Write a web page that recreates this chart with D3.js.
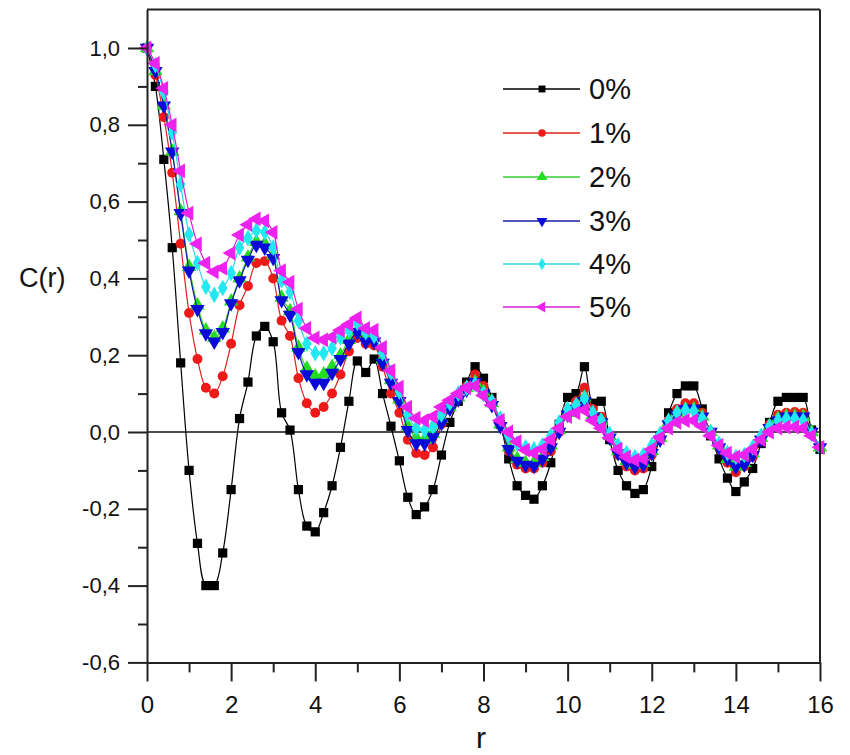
<!DOCTYPE html>
<html>
<head>
<meta charset="utf-8">
<script src="https://cdn.jsdelivr.net/npm/d3@7"></script>
<style>
  html, body { margin: 0; padding: 0; background: #fff; }
  svg { display: block; }
  text { font-family: "Liberation Sans", Arial, sans-serif; fill: #111; }
</style>
</head>
<body>
<svg id="chart" width="850" height="755"></svg>
<script>
// ---------------- DATA ----------------
const rValues = [
  0.0,0.2,0.4,0.6,0.8,1.0,1.2,1.4,1.6,1.8,
  2.0,2.2,2.4,2.6,2.8,3.0,3.2,3.4,3.6,3.8,
  4.0,4.2,4.4,4.6,4.8,5.0,5.2,5.4,5.6,5.8,
  6.0,6.2,6.4,6.6,6.8,7.0,7.2,7.4,7.6,7.8,
  8.0,8.2,8.4,8.6,8.8,9.0,9.2,9.4,9.6,9.8,
  10.0,10.2,10.4,10.6,10.8,11.0,11.2,11.4,11.6,11.8,
  12.0,12.2,12.4,12.6,12.8,13.0,13.2,13.4,13.6,13.8,
  14.0,14.2,14.4,14.6,14.8,15.0,15.2,15.4,15.6,15.8,
  16.0
];

const c0 = [
  1.00,0.90,0.71,0.48,0.18,-0.10,-0.29,-0.40,-0.40,-0.315,
  -0.15,0.035,0.13,0.25,0.275,0.235,0.05,0.005,-0.15,-0.245,
  -0.26,-0.21,-0.14,-0.04,0.08,0.185,0.155,0.19,0.10,0.015,
  -0.075,-0.17,-0.215,-0.195,-0.15,-0.06,0.025,0.08,0.13,0.17,
  0.14,0.09,0.02,-0.07,-0.14,-0.165,-0.175,-0.14,-0.08,0.02,
  0.09,0.10,0.17,0.075,0.08,-0.02,-0.10,-0.14,-0.16,-0.15,
  -0.09,-0.01,0.05,0.10,0.12,0.12,0.06,-0.01,-0.07,-0.12,
  -0.155,-0.13,-0.095,-0.03,0.025,0.08,0.09,0.09,0.09,0.005,
  -0.045
];
const c1 = [
  1.00,0.93,0.82,0.675,0.49,0.31,0.19,0.115,0.10,0.145,
  0.23,0.33,0.38,0.44,0.445,0.40,0.29,0.25,0.14,0.075,
  0.05,0.065,0.10,0.15,0.21,0.245,0.23,0.225,0.17,0.10,
  0.05,-0.02,-0.055,-0.06,-0.04,0.02,0.06,0.09,0.12,0.15,
  0.12,0.08,0.02,-0.05,-0.085,-0.095,-0.095,-0.08,-0.05,0.0,
  0.06,0.08,0.115,0.06,0.04,-0.01,-0.06,-0.09,-0.10,-0.095,
  -0.06,-0.02,0.03,0.06,0.075,0.075,0.05,0.0,-0.04,-0.08,
  -0.105,-0.09,-0.065,-0.02,0.02,0.045,0.05,0.052,0.05,0.0,
  -0.04
];
const c2 = [
  1.00,0.94,0.85,0.73,0.575,0.43,0.33,0.265,0.245,0.27,
  0.34,0.40,0.455,0.495,0.49,0.46,0.35,0.315,0.22,0.165,
  0.145,0.15,0.17,0.20,0.24,0.265,0.25,0.245,0.19,0.135,
  0.085,0.015,-0.015,-0.02,-0.005,0.035,0.065,0.09,0.115,0.13,
  0.105,0.075,0.02,-0.04,-0.07,-0.08,-0.08,-0.065,-0.035,0.005,
  0.05,0.065,0.09,0.045,0.03,-0.01,-0.05,-0.075,-0.085,-0.08,
  -0.05,-0.015,0.025,0.05,0.06,0.06,0.04,0.0,-0.035,-0.07,
  -0.09,-0.08,-0.055,-0.015,0.015,0.035,0.04,0.04,0.04,0.0,
  -0.04
];
const c3 = [
  1.00,0.94,0.85,0.73,0.57,0.42,0.32,0.257,0.235,0.26,
  0.335,0.395,0.448,0.487,0.48,0.453,0.343,0.305,0.208,0.15,
  0.128,0.128,0.154,0.19,0.23,0.26,0.235,0.235,0.18,0.128,
  0.08,0.005,-0.03,-0.03,-0.013,0.023,0.06,0.085,0.11,0.13,
  0.10,0.07,0.015,-0.045,-0.075,-0.086,-0.088,-0.07,-0.04,0.0,
  0.045,0.06,0.08,0.04,0.025,-0.015,-0.055,-0.08,-0.09,-0.085,
  -0.055,-0.02,0.02,0.045,0.06,0.06,0.04,0.0,-0.04,-0.07,
  -0.09,-0.085,-0.06,-0.02,0.01,0.03,0.04,0.04,0.04,0.0,
  -0.04
];
const c4 = [
  1.00,0.955,0.885,0.78,0.645,0.515,0.44,0.378,0.357,0.375,
  0.414,0.48,0.505,0.525,0.52,0.48,0.395,0.365,0.29,0.23,
  0.205,0.205,0.218,0.247,0.265,0.284,0.26,0.25,0.205,0.155,
  0.105,0.045,0.01,0.005,0.015,0.045,0.075,0.10,0.115,0.125,
  0.10,0.08,0.035,-0.01,-0.03,-0.04,-0.045,-0.035,-0.01,0.025,
  0.06,0.07,0.088,0.05,0.03,-0.005,-0.035,-0.055,-0.065,-0.06,
  -0.035,-0.005,0.03,0.05,0.057,0.055,0.035,0.0,-0.03,-0.055,
  -0.065,-0.06,-0.04,-0.01,0.015,0.03,0.035,0.035,0.03,-0.005,
  -0.04
];
const c5 = [
  1.00,0.96,0.895,0.80,0.68,0.57,0.49,0.44,0.417,0.427,
  0.466,0.513,0.54,0.555,0.55,0.52,0.42,0.39,0.32,0.27,
  0.245,0.24,0.247,0.265,0.28,0.297,0.27,0.265,0.22,0.16,
  0.117,0.065,0.036,0.03,0.04,0.065,0.083,0.10,0.115,0.12,
  0.095,0.07,0.03,0.0,-0.025,-0.047,-0.055,-0.045,-0.02,0.01,
  0.04,0.05,0.057,0.03,0.01,-0.015,-0.045,-0.065,-0.073,-0.07,
  -0.045,-0.015,0.01,0.025,0.03,0.03,0.015,-0.01,-0.035,-0.055,
  -0.065,-0.06,-0.045,-0.02,0.0,0.01,0.013,0.013,0.01,-0.01,
  -0.04
];

const seriesNames = ["0%","1%","2%","3%","4%","5%"];
const seriesValues = [c0,c1,c2,c3,c4,c5];

const xTickValues = [0,2,4,6,8,10,12,14,16];
const xMinorTicks = [1,3,5,7,9,11,13,15];
const yTickValues = [-0.6,-0.4,-0.2,0.0,0.2,0.4,0.6,0.8,1.0];
const yMinorTicks = [-0.5,-0.3,-0.1,0.1,0.3,0.5,0.7,0.9];

// ---------------- STYLES ----------------
const styles = [
  {line:"#000000", fill:"#000000", shape:"square"},
  {line:"#e0201c", fill:"#ee1a1a", shape:"circle"},
  {line:"#33cc33", fill:"#22dd22", shape:"triUp"},
  {line:"#1a1aa8", fill:"#0a0ad8", shape:"triDown"},
  {line:"#2ed8e0", fill:"#22e8f0", shape:"diamond"},
  {line:"#d81ed8", fill:"#ee22ee", shape:"triLeft"}
];

// ---------------- CHART ----------------
const svg = d3.select("#chart");
const x = d3.scaleLinear().domain([0,16]).range([147,820]);
const y = d3.scaleLinear().domain([-0.6,1.1]).range([662.4,9.6]);

const fmt = v => d3.format(".1f")(v).replace(".", ",").replace("−","-");

function symbolPath(shape) {
  switch (shape) {
    case "square": return d3.symbol(d3.symbolSquare, 85)();
    case "circle": return d3.symbol(d3.symbolCircle, 78)();
    case "triUp": return d3.symbol(d3.symbolTriangle, 90)();
    case "triDown": return d3.symbol(d3.symbolTriangle, 90)();
    case "diamond": return d3.symbol(d3.symbolDiamond, 80)();
    case "triLeft": return d3.symbol(d3.symbolTriangle, 95)();
  }
}
function symbolRot(shape) {
  if (shape === "triDown") return 180;
  if (shape === "triLeft") return -90;
  return 0;
}

// zero line
svg.append("line")
  .attr("x1", x(0)).attr("x2", x(16))
  .attr("y1", y(0)).attr("y2", y(0))
  .attr("stroke", "#111").attr("stroke-width", 1.6);

// series
const lineGen = d3.line()
  .x((d,i) => x(rValues[i]))
  .y(d => y(d))
  .curve(d3.curveCatmullRom.alpha(0.5));

const plot = svg.append("g");
seriesValues.forEach((vals, si) => {
  const st = styles[si];
  const g = plot.append("g");
  g.append("path")
    .attr("d", lineGen(vals))
    .attr("fill", "none")
    .attr("stroke", st.line)
    .attr("stroke-width", 1.2);
  const p = symbolPath(st.shape);
  const rot = symbolRot(st.shape);
  g.selectAll("path.m")
    .data(vals)
    .join("path")
    .attr("class", "m")
    .attr("d", p)
    .attr("transform", (d,i) => `translate(${x(rValues[i])},${y(d)}) rotate(${rot})`)
    .attr("fill", st.fill);
});

// frame top/right
svg.append("line").attr("x1", x(0)).attr("x2", x(16)).attr("y1", y(1.1)).attr("y2", y(1.1))
  .attr("stroke", "#222").attr("stroke-width", 2);
svg.append("line").attr("x1", x(16)).attr("x2", x(16)).attr("y1", y(1.1)).attr("y2", y(-0.6))
  .attr("stroke", "#222").attr("stroke-width", 2);

// x axis
const xAxis = svg.append("g").attr("transform", `translate(0,${y(-0.6)})`)
  .call(d3.axisBottom(x).tickValues(xTickValues).tickSize(19).tickSizeOuter(0)
    .tickPadding(15).tickFormat(d3.format("d")));
xAxis.select(".domain").attr("stroke", "#222").attr("stroke-width", 2);
xAxis.selectAll(".tick line").attr("stroke", "#222").attr("stroke-width", 2);
xAxis.selectAll(".tick text").attr("font-size", 24).attr("fill", "#111")
  .attr("font-family", "'Liberation Sans', Arial, sans-serif");
const xMinor = svg.append("g").attr("transform", `translate(0,${y(-0.6)})`)
  .call(d3.axisBottom(x).tickValues(xMinorTicks).tickSize(10).tickFormat(""));
xMinor.select(".domain").remove();
xMinor.selectAll(".tick line").attr("stroke", "#222").attr("stroke-width", 2);

// y axis
const yAxis = svg.append("g").attr("transform", `translate(${x(0)},0)`)
  .call(d3.axisLeft(y).tickValues(yTickValues).tickSize(19).tickSizeOuter(0)
    .tickPadding(8).tickFormat(fmt));
yAxis.select(".domain").attr("stroke", "#222").attr("stroke-width", 2);
yAxis.selectAll(".tick line").attr("stroke", "#222").attr("stroke-width", 2);
yAxis.selectAll(".tick text").attr("font-size", 22).attr("fill", "#111")
  .attr("font-family", "'Liberation Sans', Arial, sans-serif");
const yMinor = svg.append("g").attr("transform", `translate(${x(0)},0)`)
  .call(d3.axisLeft(y).tickValues(yMinorTicks).tickSize(9).tickFormat(""));
yMinor.select(".domain").remove();
yMinor.selectAll(".tick line").attr("stroke", "#222").attr("stroke-width", 2);

// axis titles
svg.append("text").attr("x", 19).attr("y", 287).attr("font-size", 27).text("C(r)");
svg.append("text").attr("x", 481).attr("y", 748).attr("font-size", 30)
  .attr("text-anchor", "middle").text("r");

// legend
const legendY = [89, 133, 177, 221, 264, 307];
const legend = svg.append("g");
seriesNames.forEach((name, i) => {
  const st = styles[i];
  const gy = legendY[i];
  legend.append("line").attr("x1", 503).attr("x2", 580).attr("y1", gy).attr("y2", gy)
    .attr("stroke", st.line).attr("stroke-width", 1.4);
  legend.append("path").attr("d", symbolPath(st.shape))
    .attr("transform", `translate(542,${gy}) rotate(${symbolRot(st.shape)}) scale(0.75)`)
    .attr("fill", st.fill);
  legend.append("text").attr("x", 589).attr("y", gy + 10).attr("font-size", 29).text(name);
});
</script>
</body>
</html>
